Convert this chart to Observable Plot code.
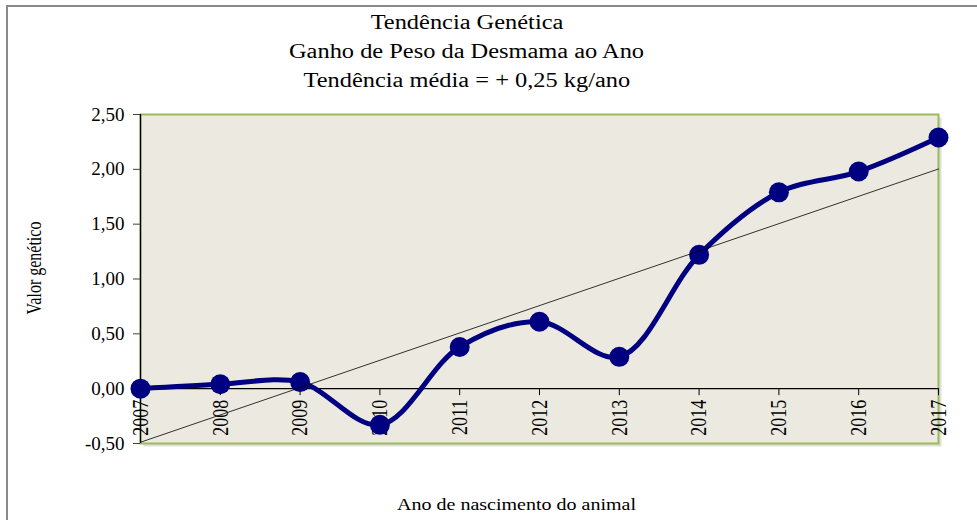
<!DOCTYPE html>
<html>
<head>
<meta charset="utf-8">
<script src="https://cdn.jsdelivr.net/npm/d3@7"></script>
<script src="https://cdn.jsdelivr.net/npm/@observablehq/plot@0.6"></script>
<style>
  body { margin: 0; background: #fff; }
  #wrap { position: relative; width: 977px; height: 520px; overflow: hidden; font-family: "Liberation Serif", "Times New Roman", serif; color: #000; }
  #border { position: absolute; left: 6px; top: 5px; width: 990px; height: 530px; border-top: 2px solid #8a8a8a; border-left: 2px solid #8a8a8a; }
  #title { position: absolute; left: 0; top: 8px; width: 934px; text-align: center; font-size: 20px; line-height: 29px; }
  #title span { display: inline-block; transform: scaleX(1.22); font-family: "Liberation Serif", serif; }
  #xlabel { position: absolute; left: 0; width: 1034px; top: 496px; text-align: center; font-size: 16px; }
  #xlabel span { display: inline-block; transform: scaleX(1.25); }
  #ylabel { position: absolute; left: 35px; top: 268px; transform: translate(-50%, -50%) rotate(-90deg) scaleY(1.25); font-size: 16px; white-space: nowrap; }
  #chart { position: absolute; left: 0; top: 100px; }
</style>
</head>
<body>
<div id="wrap">
  <div id="border"></div>
  <div id="title"><span>Tendência Genética</span><br><span>Ganho de Peso da Desmama ao Ano</span><br><span>Tendência média = + 0,25 kg/ano</span></div>
  <div id="ylabel">Valor genético</div>
  <div id="xlabel"><span>Ano de nascimento do animal</span></div>
  <div id="chart"></div>
</div>
<script>
const years = [2007, 2008, 2009, 2010, 2011, 2012, 2013, 2014, 2015, 2016, 2017];
const values = [0.00, 0.04, 0.06, -0.33, 0.38, 0.61, 0.29, 1.22, 1.79, 1.98, 2.29];
const yTicks = [-0.5, 0, 0.5, 1, 1.5, 2, 2.5];
const yDomain = [-0.5, 2.5];

const data = years.map((x, i) => ({x, y: values[i]}));

const W = 977, H = 420, mt = 14, mb = 77, ml = 140, mr = 39;
const plotH = H - mt - mb;
const axisDy = -((0 - yDomain[0]) / (yDomain[1] - yDomain[0])) * plotH;

const chart = Plot.plot({
  width: W,
  height: H,
  marginTop: mt,
  marginBottom: mb,
  marginLeft: ml,
  marginRight: mr,
  style: {fontFamily: "Liberation Serif, Times New Roman, serif", fontSize: "19px", color: "#000", background: "transparent", overflow: "visible"},
  x: {domain: [2007, 2017]},
  y: {domain: yDomain},
  marks: [
    Plot.frame({fill: "#bfbfbf", fillOpacity: 0.5, dx: 3, dy: 3}),
    Plot.frame({fill: "#ECEAE0", stroke: "#9BBB59", strokeWidth: 2}),
    Plot.ruleY([0], {stroke: "#000", strokeWidth: 1.3}),
    Plot.ruleX([2007], {stroke: "#000", strokeWidth: 1.3}),
    Plot.axisY({ticks: yTicks, tickFormat: d => d.toFixed(2).replace(".", ","), tickSize: 7, tickPadding: 9, label: null, stroke: "#404040", fontSize: 19}),
    Plot.axisX({ticks: years, tickFormat: d => String(d), tickRotate: -90, tickSize: 7, tickPadding: 4, dy: axisDy, label: null, fontSize: 18, stroke: "#000"}),
    Plot.line(data, {x: "x", y: "y", curve: "catmull-rom", stroke: "#000080", strokeWidth: 5}),
    Plot.dot(data, {x: "x", y: "y", r: 10, fill: "#000080"}),
    Plot.linearRegressionY(data, {x: "x", y: "y", stroke: "#000", strokeWidth: 0.8, ci: 0})
  ]
});
d3.select(chart).selectAll("text")
  .filter(function() { return /^20\d\d$/.test(this.textContent); })
  .each(function() {
    const t = this.getAttribute("transform");
    if (t) this.setAttribute("transform", t + " scale(1,1.25)");
  });
document.getElementById("chart").appendChild(chart);
</script>
</body>
</html>
